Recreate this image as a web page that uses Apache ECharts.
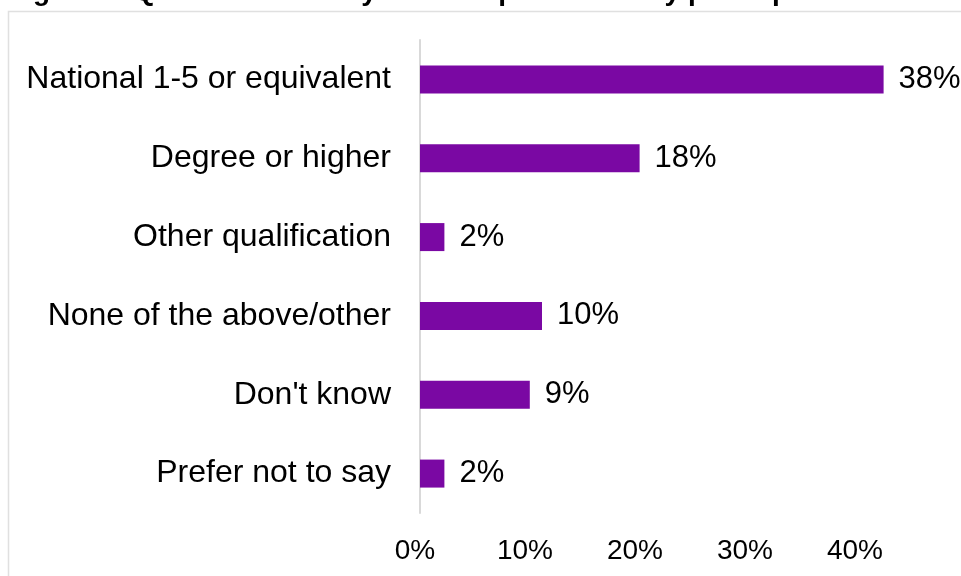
<!DOCTYPE html>
<html>
<head>
<meta charset="utf-8">
<script src="https://cdn.jsdelivr.net/npm/echarts@6/dist/echarts.min.js"></script>
<style>
  html, body { margin: 0; padding: 0; background: #ffffff; }
  #chart { width: 961px; height: 576px; }
</style>
</head>
<body>
<div id="chart"></div>
<script>
// Survey categories, top to bottom
const categories = [
  'National 1-5 or equivalent',
  'Degree or higher',
  'Other qualification',
  'None of the above/other',
  "Don't know",
  'Prefer not to say'
];
// Share of participants, percent
const shares = [38, 18, 2, 10, 9, 2];
// Horizontal axis tick values and labels
const tickValues = [0, 10, 20, 30, 40];
const tickLabels = ['0%', '10%', '20%', '30%', '40%'];

const titleText = 'Figure 6: Qualifications of year 2 telephone survey participants';
const FONT = '"Liberation Sans", Arial, sans-serif';
const BAR = '#7a08a3';

const chart = echarts.init(document.getElementById('chart'), null, { renderer: 'canvas' });

chart.setOption({
  backgroundColor: '#ffffff',
  animation: false,
  graphic: [
    {
      type: 'rect',
      shape: { x: 8.5, y: 11.5, width: 1000, height: 620 },
      style: { fill: 'none', stroke: '#e0e0e0', lineWidth: 1.5 },
      silent: true,
      z: -1
    },
    {
      type: 'text',
      x: 8,
      y: 6,
      style: {
        text: titleText,
        font: 'bold 28px ' + FONT,
        fill: '#000000',
        textVerticalAlign: 'bottom',
        verticalAlign: 'bottom'
      },
      silent: true
    }
  ],
  grid: [
    { left: 420, top: 40, width: 488, height: 473, containLabel: false },
    { left: 415, top: 40, width: 440, height: 473, containLabel: false }
  ],
  xAxis: [
    {
      gridIndex: 0,
      type: 'value',
      min: 0,
      max: 40,
      show: false
    },
    {
      gridIndex: 1,
      type: 'value',
      min: 0,
      max: 40,
      interval: 10,
      axisLine: { show: false },
      axisTick: { show: false },
      splitLine: { show: false },
      axisLabel: {
        margin: 24,
        fontFamily: FONT,
        fontSize: 28,
        color: '#000000',
        formatter: function (v) {
          const i = tickValues.indexOf(v);
          return i >= 0 ? tickLabels[i] : '';
        }
      }
    }
  ],
  yAxis: [
    {
      gridIndex: 0,
      type: 'category',
      data: categories,
      inverse: true,
      axisLine: { show: true, lineStyle: { color: '#d9d9d9', width: 2 } },
      axisTick: { show: false },
      splitLine: { show: false },
      axisLabel: {
        margin: 29,
        fontFamily: FONT,
        fontSize: 32,
        color: '#000000',
        padding: [3, 0, 0, 0]
      }
    },
    {
      gridIndex: 1,
      type: 'category',
      data: categories,
      show: false
    }
  ],
  series: [
    {
      type: 'bar',
      xAxisIndex: 0,
      yAxisIndex: 0,
      data: shares,
      barWidth: 28,
      itemStyle: { color: BAR },
      label: {
        show: true,
        position: 'right',
        distance: 15,
        fontFamily: FONT,
        fontSize: 31,
        color: '#000000',
        padding: [3, 0, 0, 0],
        formatter: function (p) { return p.value + '%'; }
      }
    }
  ]
});
</script>
</body>
</html>
